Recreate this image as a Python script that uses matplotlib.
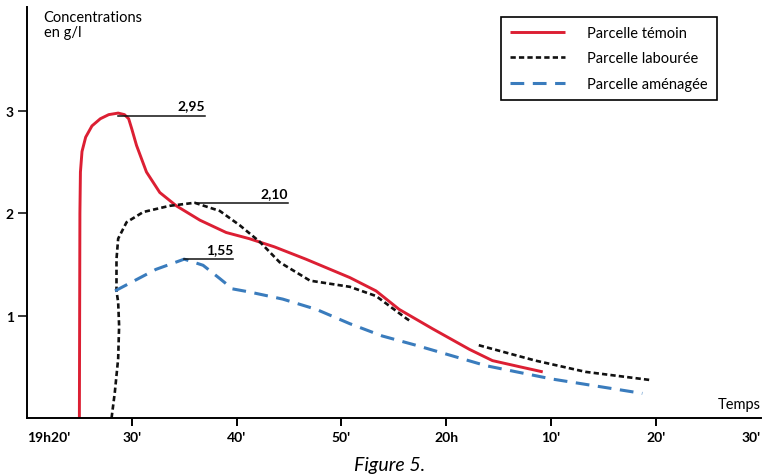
import matplotlib

matplotlib.use("Agg")
import matplotlib.pyplot as plt

FONT = ["Lato", "DejaVu Sans"]
RED = "#dc1f33"
BLACK = "#111111"
BLUE = "#3a7cbd"

# time in minutes after 19h20, concentration in g/l
temoin_t = [5.0, 5.05, 5.1, 5.25, 5.6, 6.2, 7.0, 7.8, 8.7, 9.3, 9.7, 10.0, 10.45, 11.4, 12.67, 14.25,
            16.5, 19.0, 21.2, 23.6, 26.6, 30.8, 33.3, 35.5, 38.7, 42.2, 44.4, 47.0, 49.2]
temoin_c = [0.0, 2.0, 2.4, 2.6, 2.74, 2.85, 2.92, 2.96, 2.975, 2.96, 2.92, 2.82, 2.66, 2.40, 2.20, 2.07,
            1.93, 1.81, 1.75, 1.67, 1.55, 1.37, 1.24, 1.06, 0.87, 0.67, 0.56, 0.50, 0.45]

laboure_t = [8.07, 8.38, 8.70, 8.79, 8.70, 8.54, 8.54, 8.7, 9.5, 11.1, 13.6, 16.0, 18.4, 20.3, 22.2,
             24.1, 27.0, 30.8, 33.3, 36.2, 36.5]
laboure_c = [0.0, 0.25, 0.58, 0.90, 1.13, 1.24, 1.55, 1.75, 1.91, 2.01, 2.07, 2.10, 2.02, 1.88, 1.72,
             1.52, 1.34, 1.28, 1.19, 0.97, 0.95]
laboure_t2 = [43.1, 48.5, 53.3, 59.5]
laboure_c2 = [0.71, 0.56, 0.45, 0.37]

amenage_t = [8.4, 12.3, 15.0, 16.8, 18.4, 19.6, 21.2, 24.4, 27.6, 30.8, 33.9, 37.1, 43.8, 50.1, 58.7]
amenage_c = [1.24, 1.45, 1.55, 1.49, 1.36, 1.26, 1.23, 1.16, 1.06, 0.92, 0.80, 0.71, 0.51, 0.38, 0.24]

# peak annotations: value, time of peak, end of the leader line
peak_values = [2.95, 2.10, 1.55]
peak_t = [8.7, 16.0, 15.0]
peak_line_end = [17.0, 24.9, 19.7]

x_ticks = [0, 10, 20, 30, 40, 50, 60, 70]
x_labels = ["19h20'", "30'", "40'", "50'", "20h", "10'", "20'", "30'"]
y_ticks = [1, 2, 3]


def main() -> None:
    plt.rcParams["font.family"] = FONT
    fig = plt.figure(figsize=(7.66, 4.77), dpi=100)
    ax = fig.add_axes([0.0352, 0.1216, 0.958, 0.8616])

    ax.plot(temoin_t, temoin_c, color=RED, lw=2.1, label="Parcelle témoin", solid_capstyle="butt")
    ax.plot(laboure_t, laboure_c, color=BLACK, lw=1.9, dashes=(2.0, 1.2), label="Parcelle labourée")
    ax.plot(laboure_t2, laboure_c2, color=BLACK, lw=1.9, dashes=(2.0, 1.2))
    ax.plot(amenage_t, amenage_c, color=BLUE, lw=2.2, dashes=(4.5, 2.8), label="Parcelle aménagée")

    for value, t0, t1 in zip(peak_values, peak_t, peak_line_end):
        ax.plot([t0, t1], [value, value], color=BLACK, lw=1.1)
        ax.text(t1, value + 0.04, f"{value:.2f}".replace(".", ","), ha="right", va="bottom",
                fontsize=10, fontweight="bold")

    ax.set_xlim(0, 70)
    ax.set_ylim(0, 4.01)
    for side in ("top", "right"):
        ax.spines[side].set_visible(False)
    for side in ("left", "bottom"):
        ax.spines[side].set_linewidth(1.4)

    ax.set_xticks(x_ticks)
    ax.set_xticklabels(x_labels, fontsize=10, fontweight="bold")
    ax.set_yticks(y_ticks)
    ax.set_yticklabels([str(v) for v in y_ticks], fontsize=10, fontweight="bold")
    ax.tick_params(axis="x", length=5.5, width=1.4, pad=4)
    ax.tick_params(axis="y", length=6.5, width=1.1, pad=3)
    ticks = ax.xaxis.get_major_ticks()
    ticks[0].tick1line.set_visible(False)
    ticks[-1].tick1line.set_visible(False)
    labels = ax.get_xticklabels()
    labels[0].set_ha("left")
    labels[-1].set_ha("right")

    ax.text(1.6, 3.98, "Concentrations\nen g/l", ha="left", va="top", fontsize=10.5, linespacing=1.05)
    ax.text(70, 0.07, "Temps", ha="right", va="bottom", fontsize=10.5)
    fig.text(0.508, 0.025, "Figure 5.", ha="center", va="center", fontsize=14, style="italic")

    leg = ax.legend(loc="upper right", bbox_to_anchor=(0.940, 0.976), borderaxespad=0, fontsize=10.5,
                    handlelength=3.75, handletextpad=1.55, labelspacing=0.8, borderpad=0.6,
                    fancybox=False, framealpha=1)
    leg.get_frame().set_edgecolor("black")
    leg.get_frame().set_linewidth(1.2)

    fig.savefig("out.png", dpi=100)


if __name__ == "__main__":
    main()
